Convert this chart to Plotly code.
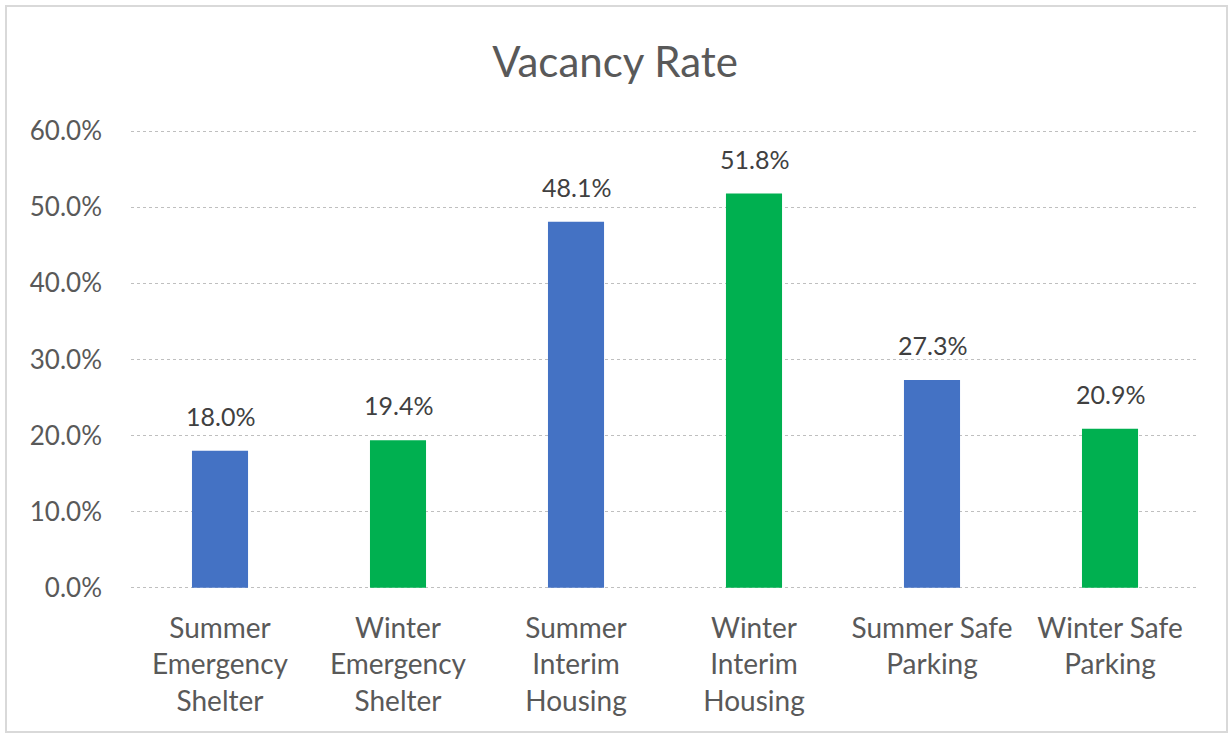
import plotly.graph_objects as go

categories = ["Summer<br>Emergency<br>Shelter", "Winter<br>Emergency<br>Shelter",
              "Summer<br>Interim<br>Housing", "Winter<br>Interim<br>Housing",
              "Summer Safe<br>Parking", "Winter Safe<br>Parking"]
values = [18.0, 19.4, 48.1, 51.8, 27.3, 20.9]
bar_colors = ["#4472C4", "#00B050", "#4472C4", "#00B050", "#4472C4", "#00B050"]
tick_vals = [0, 10, 20, 30, 40, 50, 60]
tick_text = ["0.0%", "10.0%", "20.0%", "30.0%", "40.0%", "50.0%", "60.0%"]

FONT = "Lato, 'Open Sans', sans-serif"

fig = go.Figure(go.Bar(
    x=categories, y=values,
    marker=dict(color=bar_colors, line=dict(width=0)),
    cliponaxis=False,
    width=0.315,
    hoverinfo="x+y",
))

for c, v in zip(categories, values):
    fig.add_annotation(x=c, y=v, text=f"{v:.1f}%", showarrow=False,
                       yanchor="bottom", yshift=18,
                       font=dict(size=25, color="#404040", family=FONT))

W, H = 1230, 735
L, R, T, B = 131, 31, 130, 146
pw, ph = W - L - R, H - T - B

def px_x(x):
    return (x - L) / pw

def px_y(y):
    return (H - B - y) / ph

fig.add_shape(type="rect", xref="paper", yref="paper",
              x0=px_x(6), x1=px_x(1227), y0=px_y(732), y1=px_y(6),
              line=dict(color="#D9D9D9", width=2), layer="below")

fig.update_layout(
    width=W, height=H,
    margin=dict(l=L, r=R, t=T, b=B),
    paper_bgcolor="white", plot_bgcolor="white",
    showlegend=False,
    title=dict(text="Vacancy Rate", x=0.5, xanchor="center",
               y=1 - 62 / H, yanchor="middle", yref="container",
               font=dict(size=42, color="#595959", family=FONT)),
    font=dict(family=FONT, color="#595959"),
    xaxis=dict(showgrid=False, showline=False, ticks="",
               tickfont=dict(size=28, color="#595959", family=FONT),
               ticklabelstandoff=20),
    yaxis=dict(range=[-0.15, 60.15], tickvals=tick_vals, ticktext=tick_text,
               showgrid=True, gridcolor="#BFBFBF", griddash="dot", gridwidth=1,
               zeroline=False, showline=False, ticks="",
               tickfont=dict(size=26, color="#595959", family=FONT),
               ticklabelstandoff=28),
)

fig.write_html("out.html", config={"displayModeBar": False},
               post_script="document.body.style.margin='0';document.body.style.padding='0';")
